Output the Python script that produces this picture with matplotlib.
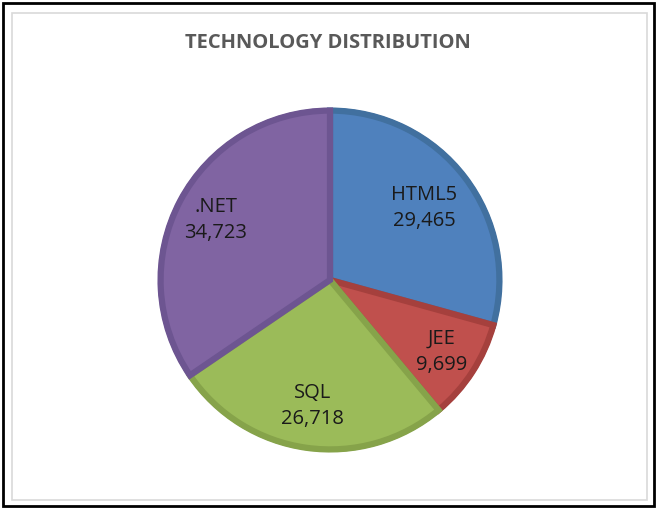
import numpy as np
import matplotlib.pyplot as plt
from matplotlib.patches import Rectangle

# data
techs = ["HTML5", "JEE", "SQL", ".NET"]
counts = [29465, 9699, 26718, 34723]
fills = ["#4F81BD", "#C0504D", "#9BBB59", "#8064A2"]
edges = ["#41709F", "#A5403D", "#86A34A", "#6D5591"]
label_dist = [0.69, 0.77, 0.74, 0.75]

plt.rcParams["font.family"] = ["Open Sans", "DejaVu Sans"]

fig = plt.figure(figsize=(6.56, 5.08), dpi=100)

# outer black frame and inner light chart-area border
fig.patches.append(Rectangle((2.5 / 656, 2.5 / 508), 651 / 656, 503 / 508,
                             transform=fig.transFigure, fill=False,
                             edgecolor="black", linewidth=2.0))
fig.patches.append(Rectangle((12 / 656, 8 / 508), 635 / 656, 487 / 508,
                             transform=fig.transFigure, fill=False,
                             edgecolor="#D9D9D9", linewidth=1.2))

fig.text(328 / 656, 1 - 43 / 508, "TECHNOLOGY DISTRIBUTION", ha="center",
         va="center", fontsize=14.5, fontweight="bold", color="#595959")

# pie axes: center (330, 280), radius 172 px
r = 172
ax = fig.add_axes([(330 - r) / 656, 1 - (280 + r) / 508, 2 * r / 656, 2 * r / 508])
wedges, _ = ax.pie(counts, colors=fills, startangle=90, counterclock=False,
                   radius=1.0, wedgeprops=dict(linewidth=0))
ax.pie(counts, colors=fills, startangle=90, counterclock=False, radius=0.985,
       wedgeprops=dict(linewidth=4.5, linestyle="-"))
for w, ec in zip(ax.patches[len(counts):], edges):
    w.set_edgecolor(ec)
    w.set_joinstyle("miter")
for w, ec in zip(wedges, edges):
    w.set_facecolor(ec)

for w, name, val, d in zip(wedges, techs, counts, label_dist):
    ang = np.deg2rad((w.theta1 + w.theta2) / 2)
    ax.text(d * np.cos(ang), d * np.sin(ang), f"{name}\n{val:,}",
            ha="center", va="center", fontsize=14.5, color="#1a1a1a",
            linespacing=1.4)

ax.set_xlim(-1, 1)
ax.set_ylim(-1, 1)
ax.set_aspect("equal")
ax.axis("off")

fig.savefig("out.png", dpi=100)
